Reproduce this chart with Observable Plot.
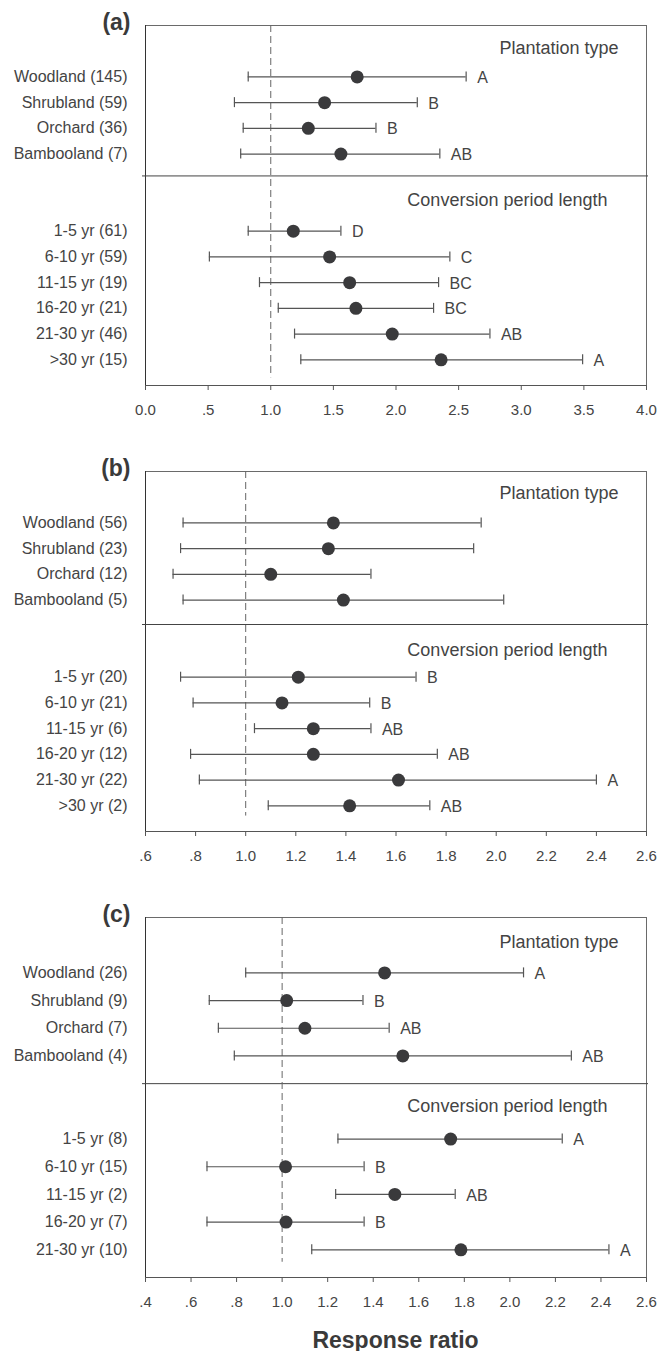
<!DOCTYPE html>
<html><head><meta charset="utf-8">
<script src="https://cdn.jsdelivr.net/npm/d3@7"></script>
<script src="https://cdn.jsdelivr.net/npm/@observablehq/plot@0.6"></script>
<style>
body{margin:0;background:#fff;font-family:"Liberation Sans",Arial,sans-serif;}
#chart{width:659px;}
#chart svg{display:block;}
#xlabel{box-sizing:border-box;width:659px;padding-left:145px;padding-right:13px;text-align:center;font-weight:bold;font-size:23px;line-height:28px;margin-top:14px;color:#3a3a3a;}
</style></head><body><div id="chart"></div><div id="xlabel">Response ratio</div>
<script>
const plantationTypes = ["Woodland", "Shrubland", "Orchard", "Bambooland"];
const periods = ["1-5 yr", "6-10 yr", "11-15 yr", "16-20 yr", "21-30 yr", ">30 yr"];

// Panel (a)
const aPlantN = [145, 59, 36, 7];
const aPlantMean = [1.69, 1.43, 1.30, 1.56];
const aPlantLo = [0.82, 0.71, 0.78, 0.76];
const aPlantHi = [2.56, 2.17, 1.84, 2.35];
const aPlantLetters = ["A", "B", "B", "AB"];
const aPeriodN = [61, 59, 19, 21, 46, 15];
const aPeriodMean = [1.18, 1.47, 1.63, 1.68, 1.97, 2.36];
const aPeriodLo = [0.82, 0.51, 0.91, 1.06, 1.19, 1.24];
const aPeriodHi = [1.56, 2.43, 2.34, 2.30, 2.75, 3.49];
const aPeriodLetters = ["D", "C", "BC", "BC", "AB", "A"];
const aTicks = [0, 0.5, 1, 1.5, 2, 2.5, 3, 3.5, 4];
const aTickLabels = ["0.0", ".5", "1.0", "1.5", "2.0", "2.5", "3.0", "3.5", "4.0"];

// Panel (b)
const bPlantN = [56, 23, 12, 5];
const bPlantMean = [1.35, 1.33, 1.10, 1.39];
const bPlantLo = [0.75, 0.74, 0.71, 0.75];
const bPlantHi = [1.94, 1.91, 1.50, 2.03];
const bPlantLetters = ["", "", "", ""];
const bPeriodN = [20, 21, 6, 12, 22, 2];
const bPeriodMean = [1.21, 1.145, 1.27, 1.27, 1.61, 1.415];
const bPeriodLo = [0.74, 0.79, 1.035, 0.78, 0.815, 1.09];
const bPeriodHi = [1.68, 1.495, 1.50, 1.765, 2.40, 1.735];
const bPeriodLetters = ["B", "B", "AB", "AB", "A", "AB"];
const bTicks = [0.6, 0.8, 1, 1.2, 1.4, 1.6, 1.8, 2, 2.2, 2.4, 2.6];
const bTickLabels = [".6", ".8", "1.0", "1.2", "1.4", "1.6", "1.8", "2.0", "2.2", "2.4", "2.6"];

// Panel (c)
const cPlantN = [26, 9, 7, 4];
const cPlantMean = [1.45, 1.02, 1.10, 1.53];
const cPlantLo = [0.84, 0.68, 0.72, 0.79];
const cPlantHi = [2.06, 1.355, 1.47, 2.27];
const cPlantLetters = ["A", "B", "AB", "AB"];
const cPeriodN = [8, 15, 2, 7, 10];
const cPeriodMean = [1.74, 1.015, 1.495, 1.017, 1.785];
const cPeriodLo = [1.245, 0.67, 1.235, 0.67, 1.13];
const cPeriodHi = [2.23, 1.36, 1.76, 1.36, 2.435];
const cPeriodLetters = ["A", "B", "AB", "B", "A"];
const cTicks = [0.4, 0.6, 0.8, 1, 1.2, 1.4, 1.6, 1.8, 2, 2.2, 2.4, 2.6];
const cTickLabels = [".4", ".6", ".8", "1.0", "1.2", "1.4", "1.6", "1.8", "2.0", "2.2", "2.4", "2.6"];

function panel(cfg) {
  const rows = [];
  cfg.plantN.forEach((n, i) => rows.push({pos: i + 1, label: `${plantationTypes[i]} (${n})`,
    mean: cfg.plantMean[i], lo: cfg.plantLo[i], hi: cfg.plantHi[i], letter: cfg.plantLetters[i]}));
  cfg.periodN.forEach((n, i) => rows.push({pos: i + 7, label: `${periods[i]} (${n})`,
    mean: cfg.periodMean[i], lo: cfg.periodLo[i], hi: cfg.periodHi[i], letter: cfg.periodLetters[i]}));
  const bottom = 7 + cfg.periodN.length;
  const xmin = cfg.ticks[0], xmax = cfg.ticks[cfg.ticks.length - 1];
  const xLab = new Map(cfg.ticks.map((t, i) => [t, cfg.tickLabels[i]]));
  const yLab = new Map(rows.map(d => [d.pos, d.label]));
  const rowH = 360 / (bottom + 1);
  return Plot.plot({
    width: 659, height: cfg.height,
    marginLeft: 145, marginRight: 13, marginTop: 25, marginBottom: cfg.height - 25 - 360,
    x: {domain: [xmin, xmax], label: null},
    y: {domain: [-1, bottom], reverse: true, label: null},
    style: {fontFamily: '"Liberation Sans", Arial, sans-serif', color: "#444", background: "#fff", overflow: "visible"},
    marks: [
      Plot.frame({stroke: "#6a6a6a"}),
      Plot.ruleX([xmin], {stroke: "#333"}),
      Plot.ruleY([bottom], {stroke: "#555"}),
      Plot.ruleY([cfg.divider], {stroke: "#444", insetLeft: -3, insetRight: -2}),
      Plot.ruleX([1], {y1: -1, y2: bottom - cfg.dashEnd, stroke: "#666", strokeDasharray: "7,4"}),
      Plot.ruleY(rows, {y: "pos", x1: "lo", x2: "hi", stroke: "#555", strokeWidth: 1.2}),
      Plot.ruleX(rows, {x: "lo", y1: d => d.pos - 5 / rowH, y2: d => d.pos + 5 / rowH, stroke: "#555", strokeWidth: 1.2}),
      Plot.ruleX(rows, {x: "hi", y1: d => d.pos - 5 / rowH, y2: d => d.pos + 5 / rowH, stroke: "#555", strokeWidth: 1.2}),
      Plot.dot(rows, {x: "mean", y: "pos", r: 6.5, fill: "#3a3a3c"}),
      Plot.text(rows, {x: "hi", y: "pos", text: "letter", dx: 11, dy: 1, textAnchor: "start", fontSize: 16, fill: "#444"}),
      Plot.text(["Plantation type"], {x: xmax, y: cfg.plantHead, dx: -28, textAnchor: "end", fontSize: 18, fill: "#444"}),
      Plot.text(["Conversion period length"], {x: xmax, y: cfg.periodHead, dx: -39, textAnchor: "end", fontSize: 18, fill: "#444"}),
      Plot.text([cfg.tag], {frameAnchor: "top-left", dx: -15, dy: -3, textAnchor: "end", lineAnchor: "middle", fontSize: 23, fontWeight: "bold", fill: "#3a3a3a"}),
      Plot.axisX({ticks: cfg.ticks, tickFormat: d => xLab.get(d), tickSize: 5, tickPadding: 14, fontSize: 15, stroke: "#555", label: null}),
      Plot.axisY({ticks: rows.map(d => d.pos), tickFormat: d => yLab.get(d), tickSize: 0, tickPadding: 18, fontSize: 16, label: null})
    ]
  });
}

const chart = document.getElementById("chart");
chart.append(panel({tag: "(a)", height: 446, divider: 4.85, plantHead: -0.1, periodHead: 5.8, dashEnd: 0.3,
  plantN: aPlantN, plantMean: aPlantMean, plantLo: aPlantLo, plantHi: aPlantHi, plantLetters: aPlantLetters,
  periodN: aPeriodN, periodMean: aPeriodMean, periodLo: aPeriodLo, periodHi: aPeriodHi, periodLetters: aPeriodLetters,
  ticks: aTicks, tickLabels: aTickLabels}));
chart.append(panel({tag: "(b)", height: 446, divider: 4.95, plantHead: -0.15, periodHead: 5.95, dashEnd: 0.6,
  plantN: bPlantN, plantMean: bPlantMean, plantLo: bPlantLo, plantHi: bPlantHi, plantLetters: bPlantLetters,
  periodN: bPeriodN, periodMean: bPeriodMean, periodLo: bPeriodLo, periodHi: bPeriodHi, periodLetters: bPeriodLetters,
  ticks: bTicks, tickLabels: bTickLabels}));
chart.append(panel({tag: "(c)", height: 420, divider: 5.0, plantHead: -0.12, periodHead: 5.8, dashEnd: 0.55,
  plantN: cPlantN, plantMean: cPlantMean, plantLo: cPlantLo, plantHi: cPlantHi, plantLetters: cPlantLetters,
  periodN: cPeriodN, periodMean: cPeriodMean, periodLo: cPeriodLo, periodHi: cPeriodHi, periodLetters: cPeriodLetters,
  ticks: cTicks, tickLabels: cTickLabels}));
</script></body></html>
